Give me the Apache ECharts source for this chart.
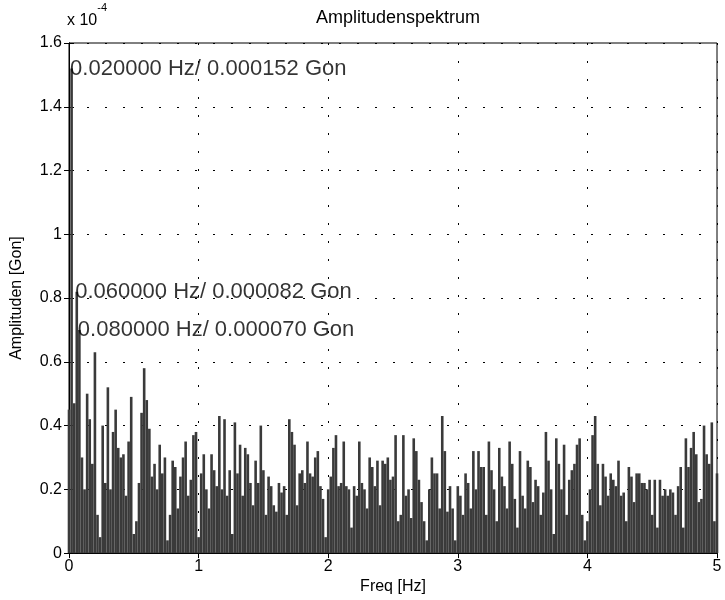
<!DOCTYPE html>
<html>
<head>
<meta charset="utf-8">
<script src="https://cdn.jsdelivr.net/npm/echarts@6/dist/echarts.min.js"></script>
<style>html,body{margin:0;padding:0;background:#fff}#c{width:725px;height:600px}</style>
</head>
<body>
<div id="c"></div>
<script>
// Frequency bins (Hz), step 0.02 Hz from 0 to 5
const freqStep = 0.02;
// Amplitudes in units of 1e-4 Gon, one per bin (0.00, 0.02, ... 5.00)
const amplitudes = [
  0.45, 1.52, 0.47, 0.82, 0.70,
  0.30, 0.20, 0.50, 0.42, 0.28,
  0.63, 0.12, 0.05, 0.40, 0.22,
  0.52, 0.20, 0.38, 0.45, 0.33,
  0.30, 0.31, 0.18, 0.35, 0.49,
  0.06, 0.10, 0.22, 0.44, 0.58,
  0.48, 0.39, 0.24, 0.28, 0.20,
  0.34, 0.25, 0.30, 0.04, 0.12,
  0.29, 0.27, 0.14, 0.24, 0.30,
  0.35, 0.18, 0.23, 0.37, 0.38,
  0.05, 0.25, 0.31, 0.20, 0.14,
  0.31, 0.26, 0.21, 0.43, 0.20,
  0.42, 0.18, 0.26, 0.06, 0.41,
  0.25, 0.34, 0.18, 0.33, 0.31,
  0.22, 0.15, 0.29, 0.22, 0.40,
  0.26, 0.12, 0.24, 0.21, 0.15,
  0.13, 0.22, 0.19, 0.21, 0.12,
  0.42, 0.38, 0.34, 0.15, 0.25,
  0.26, 0.22, 0.35, 0.25, 0.24,
  0.30, 0.32, 0.21, 0.17, 0.05,
  0.20, 0.24, 0.33, 0.37, 0.21,
  0.22, 0.35, 0.21, 0.20, 0.08,
  0.21, 0.18, 0.35, 0.22, 0.20,
  0.14, 0.30, 0.27, 0.21, 0.29,
  0.15, 0.29, 0.28, 0.30, 0.23,
  0.24, 0.37, 0.10, 0.12, 0.37,
  0.18, 0.20, 0.11, 0.36, 0.32,
  0.23, 0.16, 0.10, 0.04, 0.20,
  0.30, 0.25, 0.25, 0.14, 0.43,
  0.32, 0.13, 0.21, 0.14, 0.04,
  0.21, 0.18, 0.12, 0.25, 0.22,
  0.14, 0.32, 0.20, 0.32, 0.27,
  0.27, 0.12, 0.35, 0.26, 0.20,
  0.10, 0.33, 0.24, 0.21, 0.14,
  0.35, 0.28, 0.17, 0.08, 0.32,
  0.18, 0.14, 0.29, 0.27, 0.16,
  0.23, 0.21, 0.12, 0.19, 0.38,
  0.29, 0.20, 0.06, 0.36, 0.28,
  0.20, 0.34, 0.12, 0.23, 0.26,
  0.28, 0.34, 0.36, 0.12, 0.04,
  0.10, 0.20, 0.37, 0.43, 0.28,
  0.15, 0.28, 0.24, 0.18, 0.25,
  0.23, 0.21, 0.29, 0.18, 0.19,
  0.10, 0.27, 0.24, 0.16, 0.25,
  0.25, 0.22, 0.22, 0.20, 0.23,
  0.12, 0.23, 0.08, 0.23, 0.18,
  0.20, 0.18, 0.20, 0.19, 0.12,
  0.21, 0.27, 0.08, 0.36, 0.27,
  0.33, 0.38, 0.31, 0.16, 0.17,
  0.40, 0.31, 0.28, 0.41, 0.10,
  0.25
];
// Annotated peaks: frequency (Hz), amplitude (1e-4 Gon)
const peakFreqs = [0.02, 0.06, 0.08];
const peakAmps = [1.52, 0.82, 0.70];
const xTicks = [0, 1, 2, 3, 4, 5];
const yTicks = [0, 0.2, 0.4, 0.6, 0.8, 1, 1.2, 1.4, 1.6];

const barData = amplitudes.map((v, i) => [+(i * freqStep).toFixed(2), v]);
const peakData = peakFreqs.map((f, i) => [f, peakAmps[i]]);

const FONT = 'Liberation Sans, Arial, Helvetica, sans-serif';
const chart = echarts.init(document.getElementById('c'), null, {renderer: 'canvas'});
const dotted = {color: '#000', width: 1, type: [2, 16]};
const tick = {show: true, inside: true, length: 5, lineStyle: {color: '#000'}};
chart.setOption({
  animation: false,
  backgroundColor: '#fff',
  title: {
    text: 'Amplitudenspektrum', left: 393, top: 4, textAlign: 'center',
    textStyle: {fontFamily: FONT, fontSize: 18, fontWeight: 'normal', color: '#000'}
  },
  graphic: [{
    type: 'text', left: 67, top: 2,
    style: {
      text: '{b|x 10}{s|-4}',
      rich: {
        b: {fontFamily: FONT, fontSize: 16, fill: '#000', verticalAlign: 'bottom', padding: [11, 0, 0, 0]},
        s: {fontFamily: FONT, fontSize: 11, fill: '#000', verticalAlign: 'top'}
      }
    }
  }],
  grid: {left: 69, right: 8, top: 43, bottom: 28, show: true, borderColor: '#000', borderWidth: 1, backgroundColor: 'transparent'},
  xAxis: [{
    type: 'value', min: 0, max: 5, interval: 1,
    name: 'Freq [Hz]', nameLocation: 'middle', nameGap: 12,
    nameTextStyle: {fontFamily: FONT, fontSize: 16, color: '#000'},
    axisLine: {show: true, lineStyle: {color: '#000'}},
    axisTick: tick,
    axisLabel: {fontFamily: FONT, fontSize: 16, color: '#000', margin: 5,
      formatter: v => xTicks.includes(v) ? String(v) : ''},
    splitLine: {show: true, lineStyle: dotted}
  }, {
    type: 'value', min: 0, max: 5, interval: 1, position: 'top',
    axisLine: {show: true, lineStyle: {color: '#000'}},
    axisTick: tick, axisLabel: {show: false}, splitLine: {show: false}
  }],
  yAxis: [{
    type: 'value', min: 0, max: 1.6, interval: 0.2,
    name: 'Amplituden [Gon]', nameLocation: 'middle', nameGap: 44, nameRotate: 90,
    nameTextStyle: {fontFamily: FONT, fontSize: 16, color: '#000'},
    axisLine: {show: true, lineStyle: {color: '#000'}},
    axisTick: tick,
    axisLabel: {fontFamily: FONT, fontSize: 16, color: '#000', margin: 7,
      formatter: v => {
        const t = yTicks.find(k => Math.abs(k - v) < 1e-6);
        return t === undefined ? '' : String(t);
      }},
    splitLine: {show: true, lineStyle: dotted}
  }, {
    type: 'value', min: 0, max: 1.6, interval: 0.2, position: 'right',
    axisLine: {show: true, lineStyle: {color: '#000'}},
    axisTick: tick, axisLabel: {show: false}, splitLine: {show: false}
  }],
  series: [{
    type: 'bar', data: barData, barWidth: 2.6,
    itemStyle: {color: '#3a3a3a'}, silent: true
  }, {
    type: 'scatter', data: peakData, symbolSize: 1,
    itemStyle: {color: 'rgba(0,0,0,0)'},
    label: {
      show: true, position: 'right', distance: -2,
      fontFamily: FONT, fontSize: 22, color: '#000',
      formatter: p => p.value[0].toFixed(6) + ' Hz/ ' + (p.value[1] * 1e-4).toFixed(6) + ' Gon'
    },
    z: 5
  }]
});
</script>
</body>
</html>
